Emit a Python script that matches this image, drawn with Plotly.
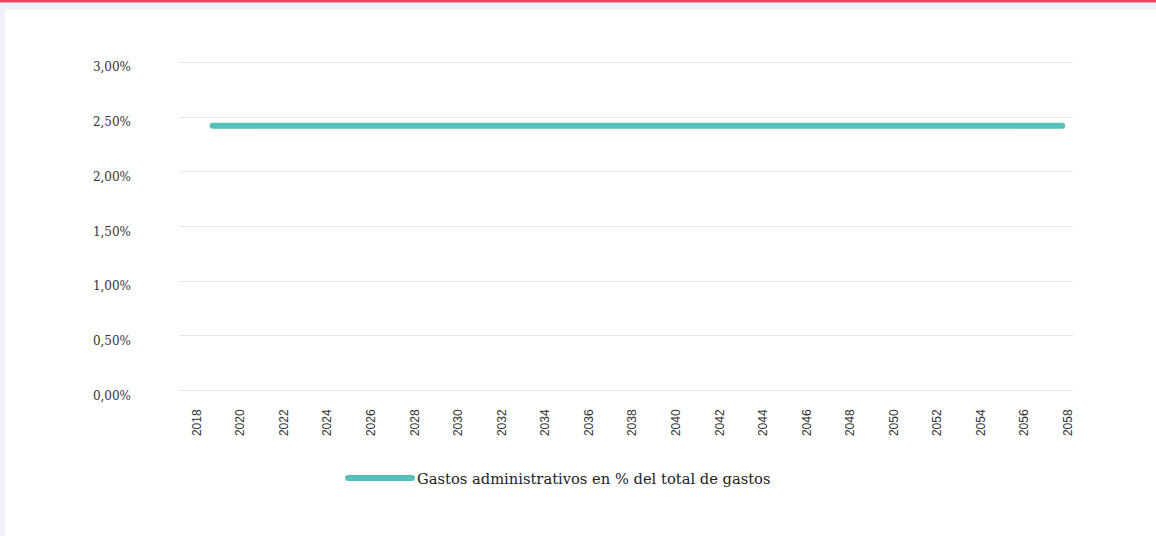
import plotly.graph_objects as go

years = list(range(2019, 2059))
gastos_admin_pct = [2.42, 2.42, 2.42, 2.42, 2.42, 2.42, 2.42, 2.42, 2.42, 2.42,
                    2.42, 2.42, 2.42, 2.42, 2.42, 2.42, 2.42, 2.42, 2.42, 2.42,
                    2.42, 2.42, 2.42, 2.42, 2.42, 2.42, 2.42, 2.42, 2.42, 2.42,
                    2.42, 2.42, 2.42, 2.42, 2.42, 2.42, 2.42, 2.42, 2.42, 2.42]
series_name = "Gastos administrativos en % del total de gastos"
x_ticks = list(range(2018, 2059, 2))
y_ticks = [0, 0.5, 1.0, 1.5, 2.0, 2.5, 3.0]
y_tick_labels = ["0,00%", "0,50%", "1,00%", "1,50%", "2,00%", "2,50%", "3,00%"]

W, H = 1156, 536
L, R = 180, 1073
Y_TOP_PX, Y_BOT_PX = 62, 391          # pixel rows of 3.0 and 0.0
Y_MIN, Y_MAX = -0.03, 3.03
ppu = (Y_BOT_PX - Y_TOP_PX) / 3.0
T = Y_TOP_PX - (Y_MAX - 3.0) * ppu
B = Y_BOT_PX + (0 - Y_MIN) * ppu


def px_x(p):
    return (p - L) / (R - L)


def px_y(p):
    return (B - p) / (B - T)


fig = go.Figure()
fig.add_trace(go.Scatter(
    x=years, y=gastos_admin_pct, mode="lines", name=series_name,
    line=dict(color="#55bfbc", width=6),
    hoverinfo="x+y",
))

shapes = [
    dict(type="rect", xref="paper", yref="paper", layer="below",
         x0=px_x(5), x1=px_x(W + 5), y0=px_y(H + 5), y1=px_y(10),
         fillcolor="white", line=dict(width=0)),
    dict(type="rect", xref="paper", yref="paper", layer="below",
         x0=px_x(-5), x1=px_x(W + 5), y0=px_y(2), y1=px_y(-3),
         fillcolor="#e8465c", line=dict(width=0)),
]

fig.update_layout(
    width=W, height=H,
    margin=dict(l=L, r=W - R, t=T, b=H - B, pad=0),
    paper_bgcolor="#eef2f6",
    plot_bgcolor="white",
    shapes=shapes,
    showlegend=True,
    legend=dict(
        orientation="h", x=px_x(343), xanchor="left",
        y=px_y(479), yanchor="middle",
        font=dict(family="DejaVu Serif", size=14.7, color="#222222"),
        bgcolor="rgba(0,0,0,0)", itemwidth=64,
    ),
    xaxis=dict(
        range=[2017.5, 2058.5], tickvals=x_ticks,
        ticktext=[str(v) for v in x_ticks],
        tickangle=-90, showgrid=False, zeroline=False, showline=False,
        tickfont=dict(family="Liberation Sans", size=12, color="#333333"),
        ticklabelstandoff=12, ticklabelshift=6, ticks="",
    ),
    yaxis=dict(
        range=[Y_MIN, Y_MAX], tickvals=y_ticks, ticktext=y_tick_labels,
        showgrid=True, gridcolor="#dfe6f0", gridwidth=1,
        zeroline=False, showline=False,
        tickfont=dict(family="DejaVu Serif", size=12, color="#333333"),
        ticklabelstandoff=48, ticklabelshift=5, ticks="",
    ),
)

post = """
document.body.style.margin='0';
document.body.style.overflow='hidden';
document.querySelectorAll('.scatterlayer .js-line, .legendlines path').forEach(function(p){p.style.strokeLinecap='round';});
"""

fig.write_html("out.html", post_script=post, config={"displayModeBar": False})
